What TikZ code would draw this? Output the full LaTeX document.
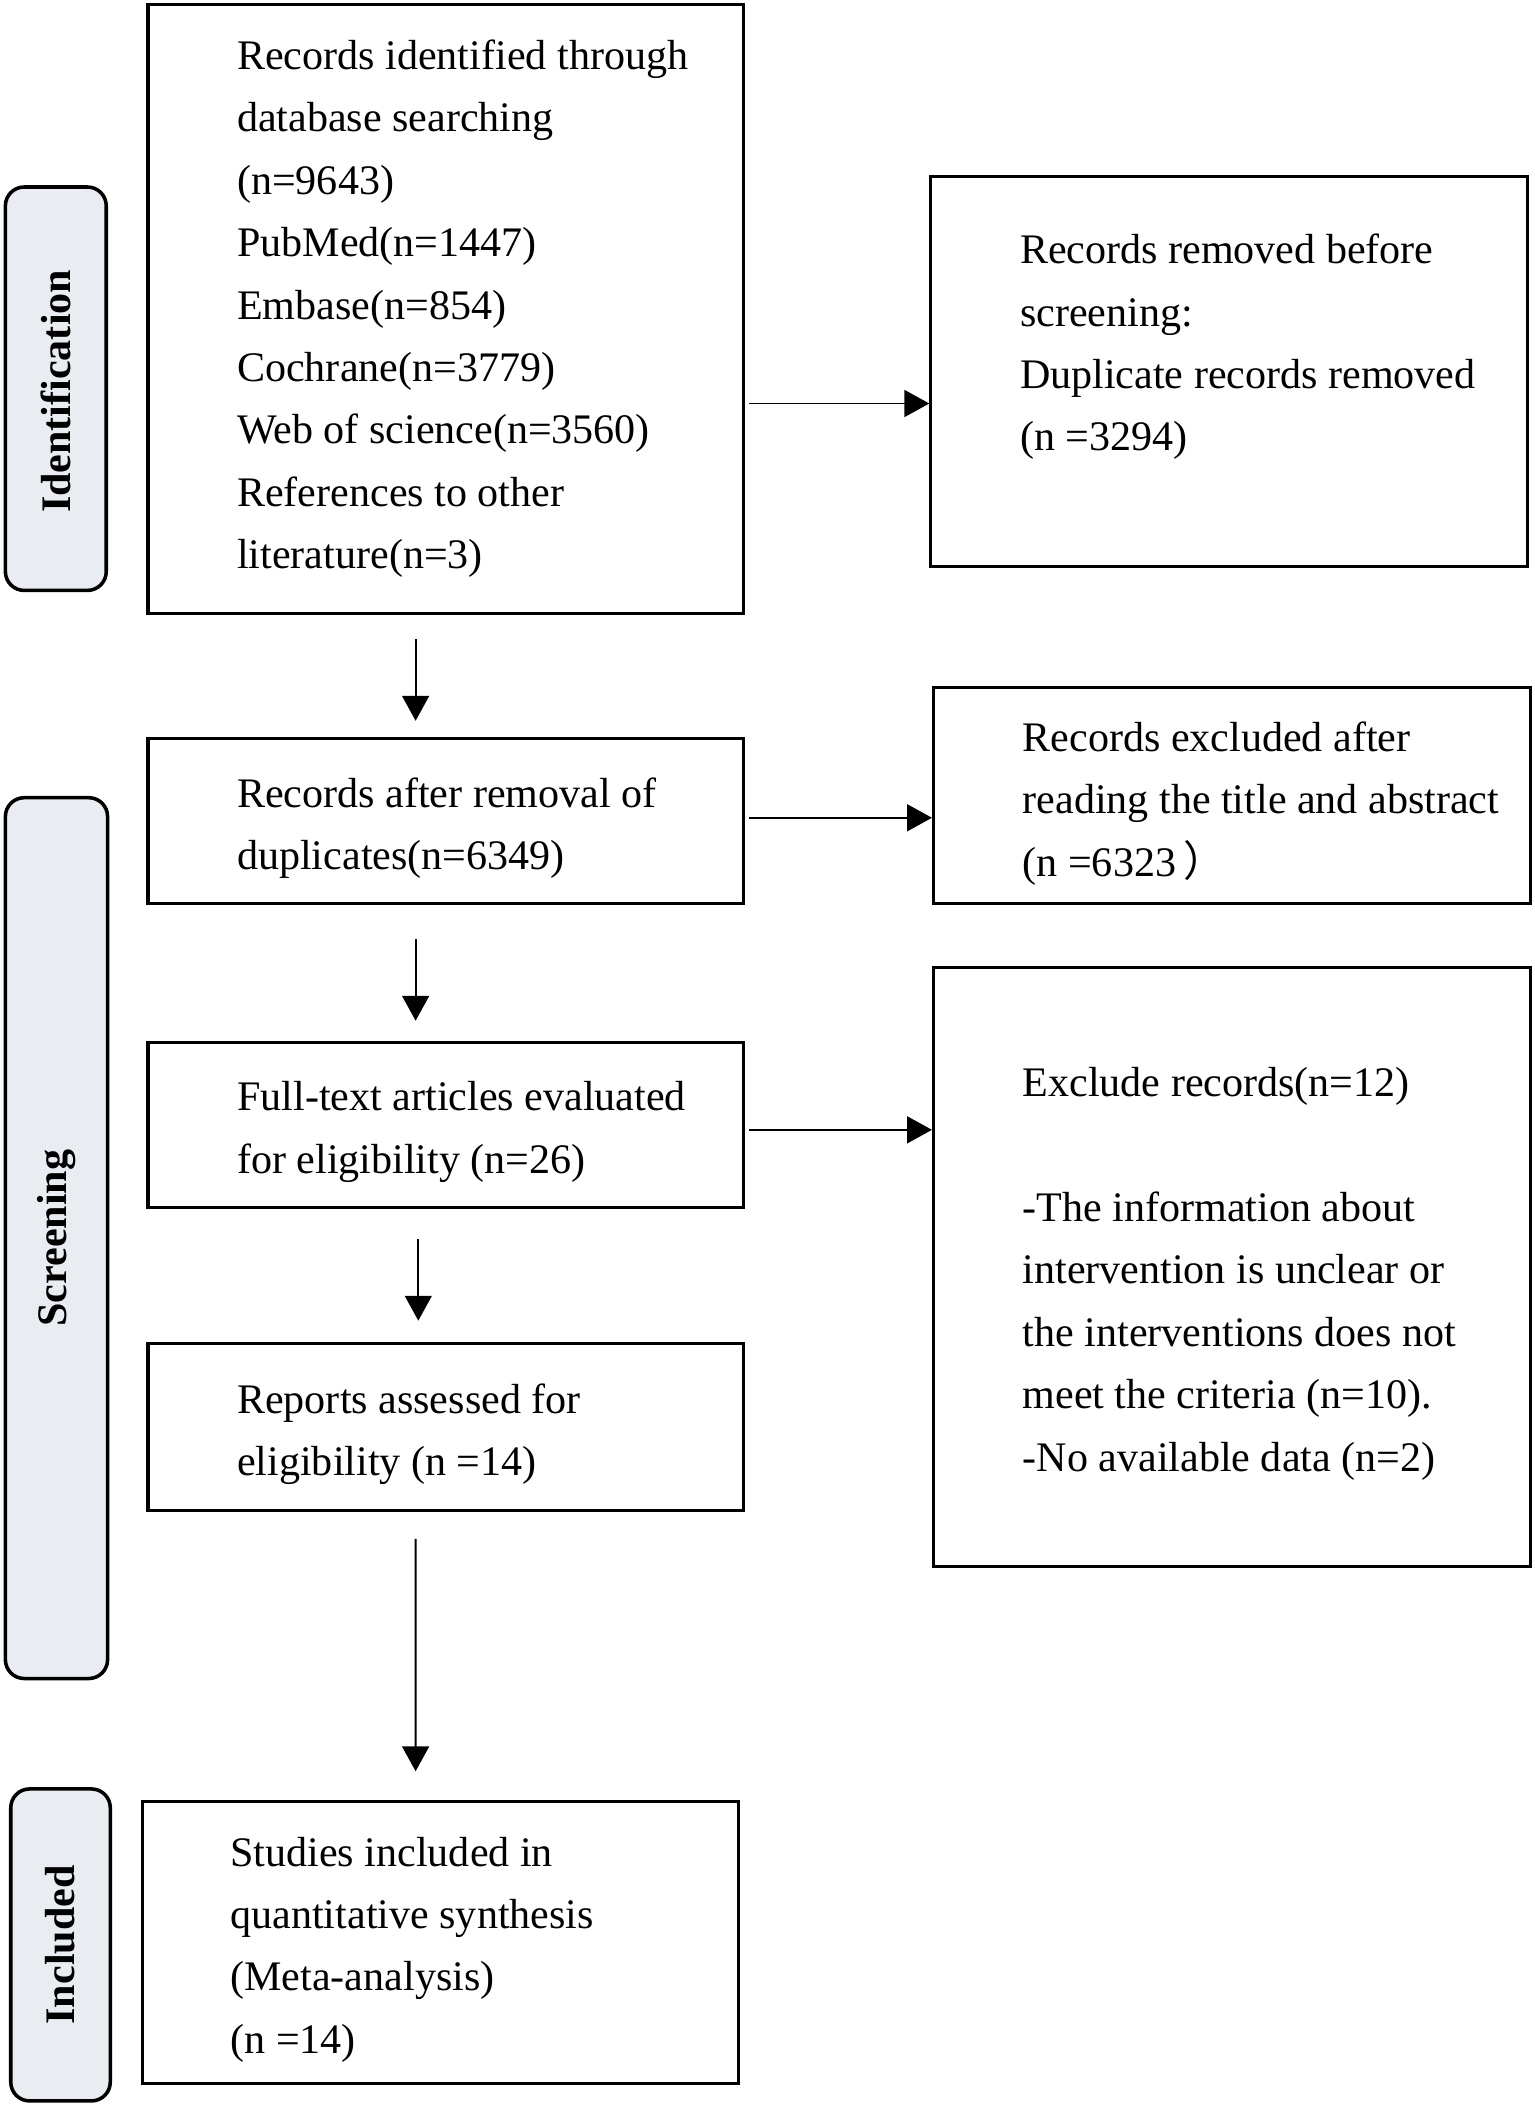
\documentclass[tikz,border=0pt]{standalone}
\usepackage{fontspec}
\setmainfont{Liberation Serif}
\newfontfamily\cjk{Noto Sans CJK SC}
\usetikzlibrary{arrows.meta}
\definecolor{sidefill}{HTML}{E9ECF1}
\tikzset{
  box/.style={draw=black, line width=1.3pt, inner sep=0pt},
  sidebox/.style={draw=black, line width=1.5pt, fill=sidefill, rounded corners=0.28cm, inner sep=0pt},
  sidetxt/.style={font=\fontsize{17.8}{21}\selectfont\bfseries, rotate=90, inner sep=0pt},
  txt/.style={font=\fontsize{17.8}{26.4}\selectfont, align=left, anchor=west, inner sep=0pt},
  arr/.style={line width=0.8pt, -{Triangle[length=0.37cm, width=0.4cm]}}
}
\begin{document}
\begin{tikzpicture}[x=0.02cm, y=-0.02cm]
\useasboundingbox (0,0) rectangle (1141,1568);
% side labels
\node[sidebox, minimum width=1.5cm, minimum height=6.0cm] (sid) at (41.5,289) {};
\node[sidetxt] (sidt) at ([yshift=-0.04cm]sid.center) {Identification};
\node[sidebox, minimum width=1.52cm, minimum height=13.1cm] (ssc) at (42,920.5) {};
\node[sidetxt] (ssct) at (ssc.center) {Screening};
\node[sidebox, minimum width=1.48cm, minimum height=4.64cm] (sin) at (45,1446) {};
\node[sidetxt] (sint) at (sin.center) {Included};
% main boxes
\node[box, minimum width=8.86cm, minimum height=9.06cm] (b1) at (331.5,229.5) {};
\node[box, minimum width=8.88cm, minimum height=5.8cm] (r1) at (914,276) {};
\node[box, minimum width=8.86cm, minimum height=2.46cm] (b2) at (331.5,610.5) {};
\node[box, minimum width=8.88cm, minimum height=3.22cm] (r2) at (916,591.5) {};
\node[box, minimum width=8.86cm, minimum height=2.46cm] (b3) at (331.5,836.5) {};
\node[box, minimum width=8.88cm, minimum height=8.92cm] (r3) at (916,942) {};
\node[box, minimum width=8.86cm, minimum height=2.48cm] (b4) at (331.5,1061) {};
\node[box, minimum width=8.86cm, minimum height=4.2cm] (b5) at (327.5,1444) {};
% texts
\node[txt] (t1) at (176,229.5) {Records identified through\\database searching\\(n=9643)\\PubMed(n=1447)\\Embase(n=854)\\Cochrane(n=3779)\\Web of science(n=3560)\\References to other\\literature(n=3)};
\node[txt] (tr1) at (758,258) {Records removed before\\screening:\\Duplicate records removed\\(n =3294)};
\node[txt] (t2) at (176,615.5) {Records after removal of\\duplicates(n=6349)};
\node[txt] (tr2) at (760,597.5) {Records excluded after\\reading the title and abstract\\(n =6323\,{\cjk ）}};
\node[txt] (t3) at (176,841.5) {Full-text articles evaluated\\for eligibility (n=26)};
\node[txt] (tr3) at (760,947) {Exclude records(n=12)\\[26.4pt]-The information about\\intervention is unclear or\\the interventions does not\\meet the criteria (n=10).\\-No available data (n=2)};
\node[txt] (t4) at (176,1066.5) {Reports assessed for\\eligibility (n =14)};
\node[txt] (t5) at (171,1449.5) {Studies included in\\quantitative synthesis\\(Meta-analysis)\\(n =14)};
% connectors
\draw[arr] ([xshift=0.06cm]b1.east |- 0,300) -- (r1.west |- 0,300);
\draw[arr] ([xshift=0.06cm]b2.east |- 0,608) -- (r2.west |- 0,608);
\draw[arr] ([xshift=0.06cm]b3.east |- 0,840) -- (r3.west |- 0,840);
\draw[arr] ([xshift=-0.45cm, yshift=-0.36cm]b1.south) -- ([xshift=-0.45cm, yshift=0.24cm]b2.north);
\draw[arr] ([xshift=-0.45cm, yshift=-0.5cm]b2.south) -- ([xshift=-0.45cm, yshift=0.3cm]b3.north);
\draw[arr] ([xshift=-0.41cm, yshift=-0.44cm]b3.south) -- ([xshift=-0.41cm, yshift=0.32cm]b4.north);
\draw[arr] ([xshift=-0.45cm, yshift=-0.4cm]b4.south) -- ([xshift=-0.37cm, yshift=0.42cm]b5.north);
\end{tikzpicture}
\end{document}
